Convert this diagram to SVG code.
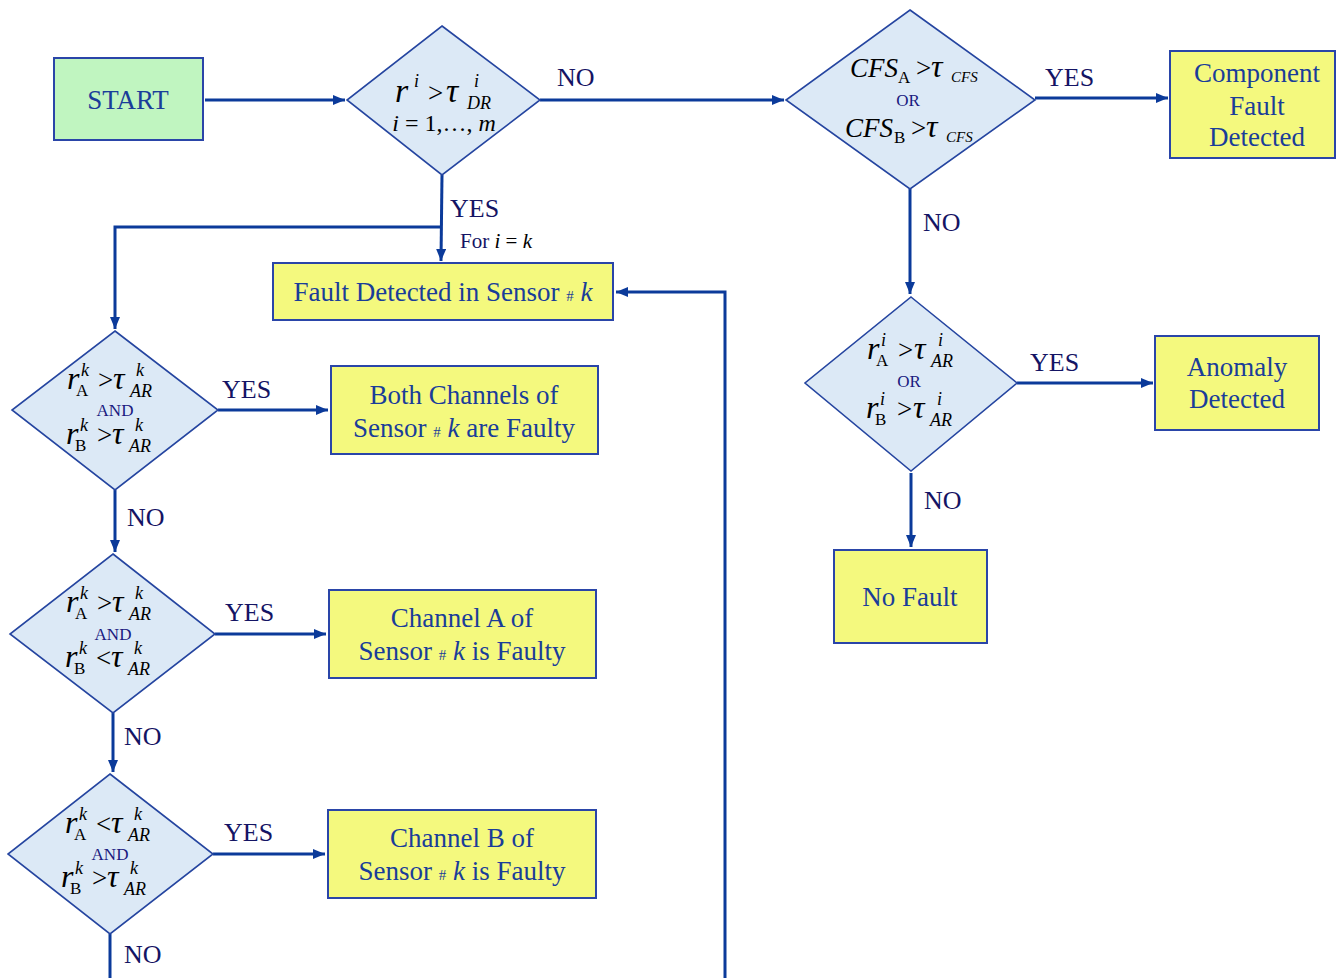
<svg xmlns="http://www.w3.org/2000/svg" width="1336" height="978" viewBox="0 0 1336 978">
<style>
.box{fill:#f4f97e;stroke:#2a45a8;stroke-width:2}
.start{fill:#c0f5c0;stroke:#2a45a8;stroke-width:2}
.dia{fill:#dce9f6;stroke:#2545a0;stroke-width:1.6}
.bt{font-family:"Liberation Serif","Times New Roman",serif;font-size:27px;fill:#1a3d99;text-anchor:middle}
.bt .h{font-size:15px}
.bt .k{font-style:italic}
.lab{font-family:"Liberation Serif","Times New Roman",serif;font-size:26px;fill:#141464}
.mi{font-family:"Liberation Serif","Times New Roman",serif;font-style:italic;font-size:32px;fill:#000}
.mt{font-family:"Liberation Serif","Times New Roman",serif;font-style:italic;font-size:34px;fill:#000}
.mo{font-family:"Liberation Serif","Times New Roman",serif;font-size:27px;fill:#000}
.ms{font-family:"Liberation Serif","Times New Roman",serif;font-style:italic;font-size:18px;fill:#000}
.mu{font-family:"Liberation Serif","Times New Roman",serif;font-size:17px;fill:#000}
.conj{font-family:"Liberation Serif","Times New Roman",serif;font-size:17px;fill:#1a1a80;text-anchor:middle}
.con{fill:none;stroke:#0b3a9a;stroke-width:3}
</style>
<defs>
<marker id="ah" markerUnits="userSpaceOnUse" markerWidth="13" markerHeight="11" refX="12" refY="5" orient="auto">
<path d="M0,0 L12,5 L0,10 z" fill="#0b3a9a"/>
</marker>
</defs>

<g id="connectors">
<path class="con" d="M205,100 H345" marker-end="url(#ah)"/>
<path class="con" d="M540,100 H784" marker-end="url(#ah)"/>
<path class="con" d="M1035,98 H1168" marker-end="url(#ah)"/>
<path class="con" d="M910,189 V294" marker-end="url(#ah)"/>
<path class="con" d="M1017,383 H1153" marker-end="url(#ah)"/>
<path class="con" d="M911,473 V547" marker-end="url(#ah)"/>
<path class="con" d="M442,175 L441,261" marker-end="url(#ah)"/>
<path class="con" d="M441,227 H115 V329" marker-end="url(#ah)"/>
<path class="con" d="M218,410 H328" marker-end="url(#ah)"/>
<path class="con" d="M115,490 V552" marker-end="url(#ah)"/>
<path class="con" d="M215,634 H326" marker-end="url(#ah)"/>
<path class="con" d="M113,713 V772" marker-end="url(#ah)"/>
<path class="con" d="M213,854 H325" marker-end="url(#ah)"/>
<path class="con" d="M110,934 V978"/>
<path class="con" d="M725,978 V292 H616" marker-end="url(#ah)"/>
<text class="lab" x="557" y="86">NO</text>
<text class="lab" x="1045" y="86">YES</text>
<text class="lab" x="923" y="231">NO</text>
<text class="lab" x="1030" y="371">YES</text>
<text class="lab" x="924" y="509">NO</text>
<text class="lab" x="450" y="217">YES</text>
<text x="460" y="248" style="font-family:'Liberation Serif','Times New Roman',serif;font-size:21px;fill:#141464">For <tspan style="font-style:italic;fill:#000">i</tspan><tspan style="fill:#000"> = </tspan><tspan style="font-style:italic;fill:#000">k</tspan></text>
<text class="lab" x="222" y="398">YES</text>
<text class="lab" x="127" y="526">NO</text>
<text class="lab" x="225" y="621">YES</text>
<text class="lab" x="124" y="745">NO</text>
<text class="lab" x="224" y="841">YES</text>
<text class="lab" x="124" y="963">NO</text>
</g>

<g id="start">
<rect class="start" x="54" y="58" width="149" height="82"/>
<text class="bt" x="128" y="109">START</text>
</g>

<g id="d1">
<polygon class="dia" points="442,26 540,100 442,175 347,100"/>
<text class="mt" x="395" y="102">r</text>
<text class="ms" x="414" y="87">i</text>
<text class="mo" x="428" y="102">&gt;</text>
<text class="mt" x="446" y="102">τ</text>
<text class="ms" x="474" y="87">i</text>
<text class="ms" x="467" y="109">DR</text>
<text x="444" y="131" style="font-family:'Liberation Serif','Times New Roman',serif;font-size:24px;fill:#000;text-anchor:middle"><tspan font-style="italic">i</tspan> = 1,…, <tspan font-style="italic">m</tspan></text>
</g>

<g id="d2">
<polygon class="dia" points="910,10 1035,100 910,189 786,100"/>
<text class="mi" x="850" y="77" style="font-size:27px">CFS</text>
<text class="mu" x="898" y="83">A</text>
<text class="mo" x="916" y="77">&gt;</text>
<text class="mi" x="931" y="77">τ</text>
<text class="ms" x="951" y="82" style="font-size:15px">CFS</text>
<text class="conj" x="908" y="106">OR</text>
<text class="mi" x="845" y="137" style="font-size:27px">CFS</text>
<text class="mu" x="894" y="143">B</text>
<text class="mo" x="911" y="137">&gt;</text>
<text class="mi" x="926" y="137">τ</text>
<text class="ms" x="946" y="142" style="font-size:15px">CFS</text>
</g>

<g id="component">
<rect class="box" x="1170" y="51" width="165" height="107"/>
<text class="bt" x="1257" y="82">Component</text>
<text class="bt" x="1257" y="115">Fault</text>
<text class="bt" x="1257" y="146">Detected</text>
</g>

<g id="d3">
<polygon class="dia" points="911,297 1017,383 911,471 805,383"/>
<g transform="translate(867,359)">
<text class="mi" x="0" y="0">r</text><text class="ms" x="14" y="-13">i</text><text class="mu" x="9" y="7">A</text>
<text class="mo" x="31" y="0">&gt;</text><text class="mi" x="47" y="0">τ</text><text class="ms" x="71" y="-13">i</text><text class="ms" x="64" y="8">AR</text>
</g>
<text class="conj" x="909" y="387">OR</text>
<g transform="translate(866,418)">
<text class="mi" x="0" y="0">r</text><text class="ms" x="14" y="-13">i</text><text class="mu" x="9" y="7">B</text>
<text class="mo" x="31" y="0">&gt;</text><text class="mi" x="47" y="0">τ</text><text class="ms" x="71" y="-13">i</text><text class="ms" x="64" y="8">AR</text>
</g>
</g>

<g id="anomaly">
<rect class="box" x="1155" y="336" width="164" height="94"/>
<text class="bt" x="1237" y="376">Anomaly</text>
<text class="bt" x="1237" y="408">Detected</text>
</g>

<g id="nofault">
<rect class="box" x="834" y="550" width="153" height="93"/>
<text class="bt" x="910" y="606">No Fault</text>
</g>

<g id="faultk">
<rect class="box" x="273" y="263" width="340" height="57"/>
<text class="bt" x="443" y="301">Fault Detected in Sensor <tspan class="h">#</tspan> <tspan class="k">k</tspan></text>
</g>

<g id="d4">
<polygon class="dia" points="115,331 218,410 115,490 12,410"/>
<g transform="translate(67,389)">
<text class="mi" x="0" y="0">r</text><text class="ms" x="14" y="-13">k</text><text class="mu" x="9" y="7">A</text>
<text class="mo" x="31" y="0">&gt;</text><text class="mi" x="46" y="0">τ</text><text class="ms" x="69" y="-13">k</text><text class="ms" x="63" y="8">AR</text>
</g>
<text class="conj" x="115" y="416">AND</text>
<g transform="translate(66,444)">
<text class="mi" x="0" y="0">r</text><text class="ms" x="14" y="-13">k</text><text class="mu" x="9" y="7">B</text>
<text class="mo" x="31" y="0">&gt;</text><text class="mi" x="46" y="0">τ</text><text class="ms" x="69" y="-13">k</text><text class="ms" x="63" y="8">AR</text>
</g>
</g>

<g id="both">
<rect class="box" x="331" y="366" width="267" height="88"/>
<text class="bt" x="464" y="404">Both Channels of</text>
<text class="bt" x="464" y="437">Sensor <tspan class="h">#</tspan> <tspan class="k">k</tspan> are Faulty</text>
</g>

<g id="d5">
<polygon class="dia" points="113,554 215,634 113,713 10,634"/>
<g transform="translate(66,612)">
<text class="mi" x="0" y="0">r</text><text class="ms" x="14" y="-13">k</text><text class="mu" x="9" y="7">A</text>
<text class="mo" x="31" y="0">&gt;</text><text class="mi" x="46" y="0">τ</text><text class="ms" x="69" y="-13">k</text><text class="ms" x="63" y="8">AR</text>
</g>
<text class="conj" x="113" y="640">AND</text>
<g transform="translate(65,667)">
<text class="mi" x="0" y="0">r</text><text class="ms" x="14" y="-13">k</text><text class="mu" x="9" y="7">B</text>
<text class="mo" x="31" y="0">&lt;</text><text class="mi" x="46" y="0">τ</text><text class="ms" x="69" y="-13">k</text><text class="ms" x="63" y="8">AR</text>
</g>
</g>

<g id="chA">
<rect class="box" x="329" y="590" width="267" height="88"/>
<text class="bt" x="462" y="627">Channel A of</text>
<text class="bt" x="462" y="660">Sensor <tspan class="h">#</tspan> <tspan class="k">k</tspan> is Faulty</text>
</g>

<g id="d6">
<polygon class="dia" points="110,774 213,854 110,934 8,854"/>
<g transform="translate(65,833)">
<text class="mi" x="0" y="0">r</text><text class="ms" x="14" y="-13">k</text><text class="mu" x="9" y="7">A</text>
<text class="mo" x="31" y="0">&lt;</text><text class="mi" x="46" y="0">τ</text><text class="ms" x="69" y="-13">k</text><text class="ms" x="63" y="8">AR</text>
</g>
<text class="conj" x="110" y="860">AND</text>
<g transform="translate(61,887)">
<text class="mi" x="0" y="0">r</text><text class="ms" x="14" y="-13">k</text><text class="mu" x="9" y="7">B</text>
<text class="mo" x="31" y="0">&gt;</text><text class="mi" x="46" y="0">τ</text><text class="ms" x="69" y="-13">k</text><text class="ms" x="63" y="8">AR</text>
</g>
</g>

<g id="chB">
<rect class="box" x="328" y="810" width="268" height="88"/>
<text class="bt" x="462" y="847">Channel B of</text>
<text class="bt" x="462" y="880">Sensor <tspan class="h">#</tspan> <tspan class="k">k</tspan> is Faulty</text>
</g>
</svg>
